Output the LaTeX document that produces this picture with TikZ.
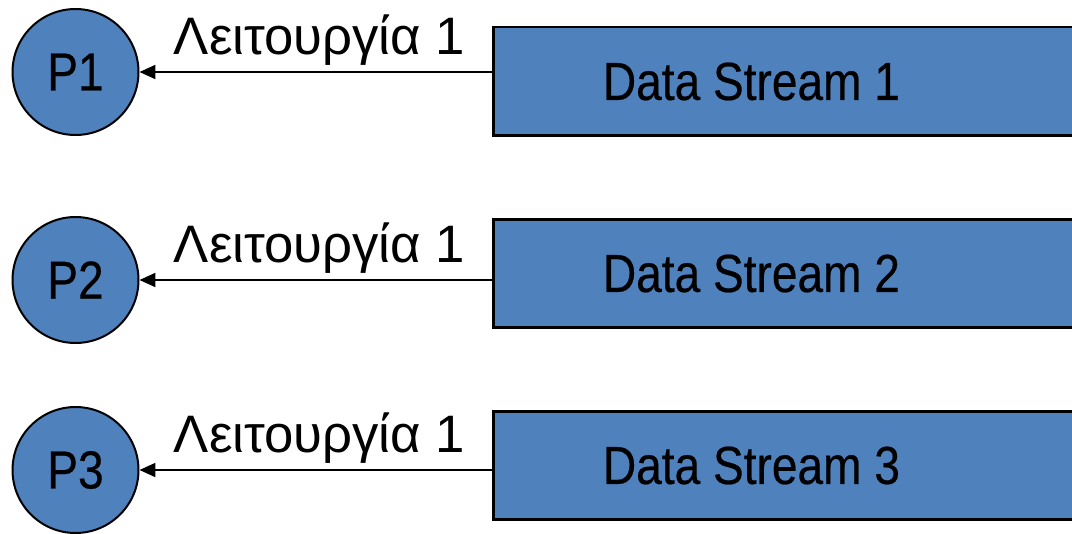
\documentclass[tikz,border=0pt]{standalone}
\usepackage{fontspec}
\setmainfont{Liberation Sans}
\newfontfamily\narrowsans[FakeStretch=0.86, FakeBold=0.4]{Liberation Sans}
\usetikzlibrary{arrows.meta}

\definecolor{streamblue}{HTML}{4F81BD}

\tikzset{
    bigfont/.style={font=\narrowsans\fontsize{30.5}{36}\selectfont},
    labelfont/.style={font=\fontsize{30}{36}\selectfont},
    proc/.style={circle, draw, fill=streamblue, line width=0.04cm, minimum size=2.52cm, inner sep=0pt, bigfont},
    stream/.style={rectangle, draw, fill=streamblue, line width=0.06cm, minimum width=12cm, minimum height=2.18cm, inner sep=0pt, anchor=north west},
    streamtext/.style={bigfont, inner sep=0pt, xshift=-0.83cm},
    flow/.style={line width=0.04cm, -{Triangle[length=0.32cm, width=0.28cm]}},
}

\begin{document}
\begin{tikzpicture}[x=0.02cm, y=-0.02cm]
    \useasboundingbox (0,0) rectangle (1072,534);
    \clip (0,0) rectangle (1072,534);

    % one row per stream: process, stream box, and the operation between them
    \foreach \i/\yp/\ys in {1/72/25.5, 2/280/217.5, 3/470/409.5} {
            \node[proc] (p\i) at (75.5,\yp) {P\i};
            \node[stream, label={[streamtext]center:Data Stream \i}] (ds\i) at (491.5,\ys) {};
            \draw[flow] (ds\i.west |- p\i) -- (p\i)
                node[midway, anchor=base, labelfont, yshift=0.36cm, xshift=0.08cm] {Λειτουργία 1};
        }
    % \draw[step=16, gray, very thin] (0,0) grid (1072,534);
\end{tikzpicture}
\end{document}
